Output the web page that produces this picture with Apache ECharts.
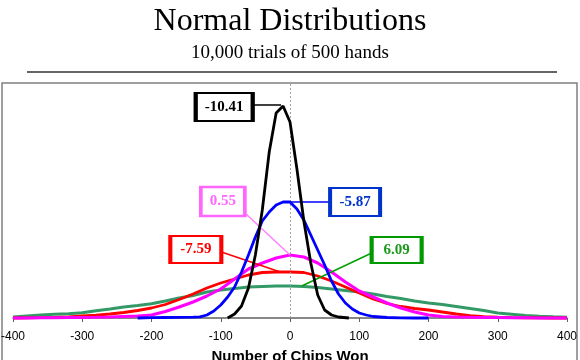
<!DOCTYPE html>
<html>
<head>
<meta charset="utf-8">
<script src="https://cdn.jsdelivr.net/npm/echarts@6/dist/echarts.min.js"></script>
<style>html,body{margin:0;padding:0;background:#fff}#c{width:580px;height:360px}</style>
</head>
<body>
<div id="c"></div>
<script>
// x tick range
var xTicks = [-400, -300, -200, -100, 0, 100, 200, 300, 400];
// shared x positions for the wide curves
var wideX = [-400,-380,-360,-340,-320,-300,-280,-260,-240,-220,-200,-180,-160,-140,-120,-100,-80,-60,-40,-20,0,20,40,60,80,100,120,140,160,180,200,220,240,260,280,300,320,340,360,380,400];
// black (-10.41)
var blackX = [-90,-80,-70,-60,-50,-40,-30,-20,-10,0,10,20,30,40,50,60,70,85];
var blackY = [0,4,12,30,63,108,166,205,212,196,149,97,55,23,8,3,1,0];
// blue (-5.87)
var blueX = [-220,-200,-180,-160,-140,-130,-120,-110,-100,-90,-80,-70,-60,-50,-40,-30,-20,-10,0,10,20,30,40,50,60,70,80,90,100,110,120,140,160,180,200];
var blueY = [0,0.3,0.5,0.7,0.8,1.2,3,7,13,21,31,46,63,81,97,106,113,116,116,109,98,83,68,53,37,24,15,9,5,3,1.5,0.5,0.2,0,0];
// magenta (0.55)
var magentaY = [0,0,0.2,0.3,0.5,0.6,0.7,1,1.5,2,3,6.5,11,16,22,29,39,49,55,60,63,61,55,46,36,27,21,15,10,6,3,1.5,1,0.7,0.5,0.4,0.3,0.2,0.1,0,0];
// red (-7.59)
var redY = [0,0.2,0.4,0.7,1.2,2,2.8,4,5.5,7.5,10,13.5,18.5,24,30,35,39,43,45.5,46,46,45.5,42,37,31,25,19,14.5,11.5,9.5,8,6,4,2.3,1.3,0.8,0.4,0.2,0.1,0,0];
// green (6.09)
var greenY = [1,2,3,3.7,4.3,5.3,7.3,9,11,12.5,14.3,17,20,22.5,26,28,29.5,31,31.5,32,32,31.5,30.5,29,27.5,26,24,21.5,19.5,17,15,13.5,11.5,9.5,7.5,5,3.8,2.5,1.8,1.2,0.7];
// callout labels: text, box centre [x, y], leader from, leader to
var labelText = ['6.09', '-7.59', '0.55', '-5.87', '-10.41'];
var labelPos = [[154, 68], [-136, 68.5], [-97, 116.5], [94, 116], [-95, 211]];
var leaderFrom = [[118, 65], [-99, 66], [-65, 105], [58, 116], [-54, 213]];
var leaderTo = [[17, 32], [-14, 46], [0, 63], [-7, 116], [-13, 213]];

function zip(xs, ys) { return xs.map(function (x, i) { return [x, ys[i]]; }); }

var styles = [
  {name: 'green', data: zip(wideX, greenY), color: '#339966', width: 3, box: '#009900', txt: '#1a9a1a', lead: '#00a000', size: [50, 26]},
  {name: 'red', data: zip(wideX, redY), color: '#ff0000', width: 2.8, box: '#ff0000', txt: '#ff0000', lead: '#ff0000', size: [51, 27]},
  {name: 'magenta', data: zip(wideX, magentaY), color: '#ff00ff', width: 3, box: '#ff66ff', txt: '#ff66ff', lead: '#ff80ff', size: [44, 29]},
  {name: 'blue', data: zip(blueX, blueY), color: '#0000ff', width: 2.8, box: '#0033cc', txt: '#0033cc', lead: '#0000ff', size: [50, 28]},
  {name: 'black', data: zip(blackX, blackY), color: '#000000', width: 2.8, box: '#000000', txt: '#000000', lead: '#000000', size: [57, 28]}
];

var series = styles.map(function (s, i) {
  return {
    type: 'line', name: s.name, data: s.data, showSymbol: false, symbol: 'none',
    lineStyle: {color: s.color, width: s.width}, z: 2 + i, clip: false,
    markLine: {
      silent: true, symbol: ['none', 'none'], label: {show: false}, animation: false,
      lineStyle: {color: s.lead, width: 1.5, type: 'solid'},
      data: [[{coord: leaderFrom[i]}, {coord: leaderTo[i]}]]
    },
    markPoint: {
      silent: true, animation: false,
      symbol: 'rect', symbolSize: s.size,
      itemStyle: {color: '#ffffff', borderColor: s.box, borderWidth: 3},
      label: {show: true, position: 'inside', formatter: labelText[i], color: s.txt,
        fontFamily: 'Liberation Serif', fontWeight: 'bold', fontSize: 15},
      data: [{coord: labelPos[i]}]
    }
  };
});
// dotted zero line
series.push({
  type: 'line', data: [], markLine: {
    silent: true, symbol: ['none', 'none'], label: {show: false}, animation: false,
    lineStyle: {color: '#a0a0a0', width: 1, type: [2, 2]},
    data: [[{coord: [0, 0]}, {coord: [0, 235]}]]
  }, z: 1
});

var chart = echarts.init(document.getElementById('c'), null, {renderer: 'canvas'});
chart.setOption({
  animation: false,
  title: {
    text: 'Normal Distributions', subtext: '10,000 trials of 500 hands',
    left: 'center', top: 1, itemGap: 6,
    textStyle: {fontFamily: 'Liberation Serif', fontWeight: 'normal', fontSize: 32, color: '#000'},
    subtextStyle: {fontFamily: 'Liberation Serif', fontSize: 19, color: '#000'}
  },
  grid: {left: 13, right: 13, top: 83, bottom: 42, containLabel: false, outerBoundsMode: 'none'},
  xAxis: {
    type: 'value', min: xTicks[0], max: xTicks[xTicks.length - 1], interval: 100,
    splitLine: {show: false},
    axisLine: {lineStyle: {color: '#606060', width: 1.5}},
    axisTick: {length: 4, lineStyle: {color: '#606060'}},
    axisLabel: {color: '#000', fontFamily: 'Liberation Sans', fontSize: 12, margin: 13},
    name: 'Number of Chips Won', nameLocation: 'middle', nameGap: 31,
    nameTextStyle: {fontFamily: 'Liberation Sans', fontWeight: 'bold', fontSize: 15, color: '#000'}
  },
  yAxis: {type: 'value', min: 0, max: 235, show: false, splitLine: {show: false}},
  graphic: [
    {type: 'line', shape: {x1: 27, y1: 72, x2: 557, y2: 72}, style: {stroke: '#333', lineWidth: 1.5}},
    {type: 'rect', shape: {x: 2, y: 83, width: 575, height: 290}, style: {fill: 'none', stroke: '#808080', lineWidth: 1.5}, z: -1}
  ],
  series: series
});
</script>
</body>
</html>
